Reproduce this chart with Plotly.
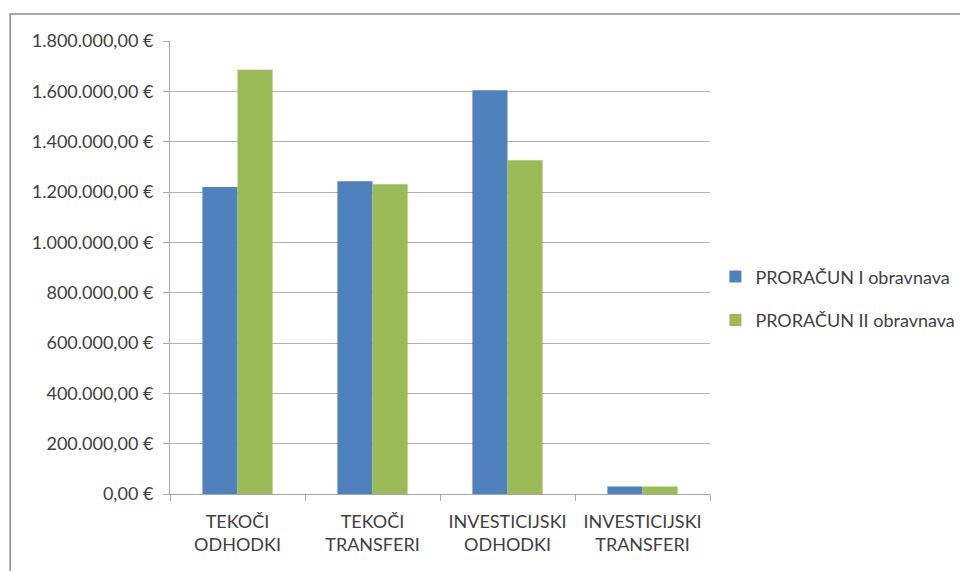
import plotly.graph_objects as go

categories = ["TEKOČI<br>ODHODKI", "TEKOČI<br>TRANSFERI", "INVESTICIJSKI<br>ODHODKI", "INVESTICIJSKI<br>TRANSFERI"]
series_names = ["PRORAČUN I obravnava", "PRORAČUN II obravnava"]
proracun_1 = [1220000, 1243000, 1604000, 30000]
proracun_2 = [1686000, 1231000, 1326000, 30000]
colors = ["#4F81BD", "#9BBB59"]

font_family = "Lato, 'Open Sans', sans-serif"
text_color = "#404040"
fs = 18

fig = go.Figure()
for i, (name, vals) in enumerate(zip(series_names, [proracun_1, proracun_2])):
    fig.add_trace(go.Bar(
        x=categories, y=vals, name=name, legendgroup=f"g{i}",
        marker=dict(color=colors[i], line=dict(width=0)),
    ))

fig.update_layout(
    width=968, height=571,
    margin=dict(l=162, r=266, t=33, b=85),
    paper_bgcolor="white", plot_bgcolor="white",
    separators=",.",
    barmode="group", bargap=0.48, bargroupgap=0,
    font=dict(family=font_family, size=fs, color=text_color),
    showlegend=True,
    legend=dict(
        x=1.01, y=0.432, xanchor="left", yanchor="middle",
        font=dict(size=fs, color=text_color),
        tracegroupgap=17, traceorder="grouped",
        bgcolor="rgba(0,0,0,0)",
    ),
    shapes=[dict(
        type="rect", xref="paper", yref="paper",
        x0=-0.296, x1=1.6, y0=-0.4, y1=1.0596,
        line=dict(color="#8c8c8c", width=1.5), fillcolor="rgba(0,0,0,0)", layer="below",
    )],
)

fig.update_yaxes(
    range=[0, 1800000], dtick=200000, tickformat=",.2f", ticksuffix=" €",
    showgrid=True, gridcolor="#b3b3b3", gridwidth=1,
    showline=True, linecolor="#a6a6a6", linewidth=1,
    ticks="outside", ticklen=6, tickcolor="#a6a6a6", ticklabelstandoff=6,
    zeroline=False, tickfont=dict(size=fs, color=text_color),
)
fig.update_xaxes(
    showline=True, linecolor="#a6a6a6", linewidth=1,
    ticks="outside", ticklen=6, tickcolor="#a6a6a6", tickson="boundaries",
    ticklabelstandoff=11,
    showgrid=False, tickfont=dict(size=fs, color=text_color),
)

fig.write_html("out.html")
